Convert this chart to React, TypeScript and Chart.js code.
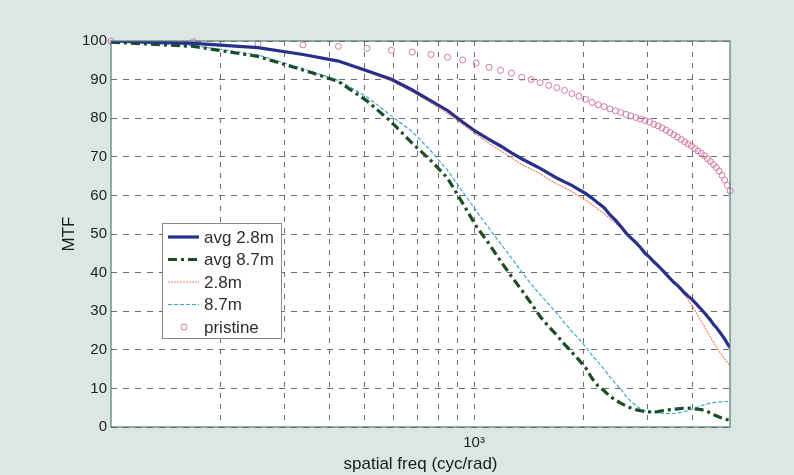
import React, { useEffect, useRef } from 'react';
import { Chart, registerables } from 'chart.js';
Chart.register(...registerables);

// spatial frequency samples (cyc/rad)
const FREQ = [100, 169, 254, 338, 423, 507, 592, 676, 761, 845, 930,
  1014, 1099, 1183, 1268, 1352, 1437, 1521, 1606, 1690, 1775,
  1859, 1944, 2028, 2113, 2197, 2282, 2366, 2451, 2535, 2620,
  2704, 2789, 2873, 2958, 3042, 3127, 3211, 3296, 3380, 3465,
  3549, 3634, 3718, 3803, 3887, 3972, 4056, 4141, 4225, 4310,
  4394, 4479, 4563, 4648, 4732, 4817, 4901, 4986, 5070];

const AVG_28 = [100, 99.4, 98.3, 96.5, 94.8, 92.3, 90.1, 87.3, 84.5, 82.0,
  79.0, 76.5, 74.5, 72.8, 71.0, 69.5, 68.2, 67.0, 65.7, 64.5,
  63.5, 62.6, 61.5, 60.5, 59.3, 58.0, 56.8, 55.0, 53.6, 52.0,
  50.3, 49.0, 47.8, 46.5, 45.0, 44.0, 42.8, 41.8, 40.7, 39.6,
  38.5, 37.5, 36.7, 35.7, 34.7, 33.9, 33.2, 32.3, 31.4, 30.5,
  29.6, 28.6, 27.7, 26.6, 25.8, 24.8, 23.8, 22.8, 21.6, 20.6];

const AVG_87 = [99.7, 98.6, 96.0, 92.5, 89.5, 84.5, 79.0, 73.5, 69.0, 64.5,
  58.0, 52.0, 47.5, 43.0, 39.0, 35.5, 32.0, 28.6, 26.0, 23.8,
  21.4, 19.4, 17.4, 15.4, 12.6, 10.6, 9.4, 8.0, 7.0, 6.2,
  5.5, 4.9, 4.5, 4.2, 4.0, 3.9, 3.9, 4.0, 4.2, 4.4,
  4.5, 4.6, 4.7, 4.8, 4.9, 4.9, 4.8, 4.7, 4.6, 4.5,
  4.3, 4.0, 3.6, 3.2, 2.9, 2.6, 2.3, 2.1, 1.9, 1.7];

const RAW_28 = [100, 99.4, 98.3, 96.5, 94.6, 92.0, 89.7, 86.8, 84.0, 81.3,
  78.4, 75.8, 73.5, 71.6, 69.8, 68.0, 66.8, 65.6, 64.2, 63.0,
  62.0, 61.0, 59.8, 58.8, 57.6, 56.4, 55.3, 54.0, 52.8, 51.6,
  50.3, 49.0, 47.9, 46.6, 45.4, 44.2, 43.0, 42.0, 40.8, 39.8,
  38.6, 37.6, 36.6, 35.4, 34.2, 33.0, 31.6, 30.2, 28.8, 27.4,
  26.0, 24.6, 23.3, 22.0, 20.8, 19.6, 18.6, 17.6, 16.8, 16.0];

const RAW_87 = [99.8, 98.8, 96.4, 92.8, 89.8, 85.5, 80.6, 76.5, 71.5, 66.5,
  61.0, 56.0, 51.5, 47.5, 43.8, 40.2, 37.0, 34.3, 31.8, 29.5,
  27.0, 24.8, 22.8, 20.8, 18.6, 16.8, 15.0, 13.0, 11.3, 9.8,
  8.0, 6.6, 5.6, 4.7, 4.2, 4.0, 3.8, 3.7, 3.6, 3.5,
  3.5, 3.5, 3.6, 3.8, 4.0, 4.3, 4.6, 4.9, 5.2, 5.5,
  5.8, 6.0, 6.2, 6.3, 6.4, 6.5, 6.5, 6.6, 6.6, 6.6];

const PRISTINE = [100, 99.8, 99.3, 99.0, 98.6, 98.1, 97.6, 97.1, 96.5, 95.8,
  95.1, 94.3, 93.2, 92.4, 91.7, 90.6, 90.0, 89.2, 88.5, 87.9,
  87.2, 86.4, 85.7, 84.9, 84.1, 83.5, 83.0, 82.4, 81.9, 81.5,
  81.0, 80.6, 80.2, 79.8, 79.4, 79.0, 78.4, 78.0, 77.5, 76.9,
  76.3, 75.7, 75.1, 74.5, 73.9, 73.3, 72.8, 72.1, 71.5, 70.9,
  70.3, 69.5, 68.8, 68.0, 67.2, 66.3, 65.2, 64.0, 62.6, 61.2];

const X_GRID = [200, 300, 400, 500, 600, 700, 800, 900, 1000, 2000, 3000, 4000];
const X_LABELS: Record<number, string> = { 1000: '10³' };
const Y_TICK_STEP = 10;

const LABELS = ['avg 2.8m', 'avg 8.7m', '2.8m', '8.7m', 'pristine'];
const X_TITLE = 'spatial freq (cyc/rad)';
const Y_TITLE = 'MTF';

const BG = '#dbe7e5';
const FONT = '"Liberation Sans", Arial, Helvetica, sans-serif';

const pts = (ys: number[]) => ys.map((y, i) => ({ x: FREQ[i], y }));

export default function App() {
  const ref = useRef<HTMLCanvasElement>(null);
  useEffect(() => {
    document.body.style.margin = '0';
    const decor = {
      id: 'decor',
      beforeDraw(chart: any) {
        const { ctx, chartArea: a } = chart;
        ctx.save();
        ctx.fillStyle = BG;
        ctx.fillRect(0, 0, chart.width, chart.height);
        ctx.fillStyle = '#ffffff';
        ctx.fillRect(a.left, a.top, a.right - a.left, a.bottom - a.top);
        ctx.restore();
      },
      afterDraw(chart: any) {
        const { ctx, chartArea: a } = chart;
        ctx.save();
        // frame
        ctx.strokeStyle = '#557a70';
        ctx.lineWidth = 1.2;
        ctx.setLineDash([]);
        ctx.strokeRect(a.left, a.top, a.right - a.left, a.bottom - a.top);
        // axis titles
        ctx.fillStyle = '#1a1a1a';
        ctx.font = `17px ${FONT}`;
        ctx.textAlign = 'center';
        ctx.textBaseline = 'middle';
        ctx.fillText(X_TITLE, (a.left + a.right) / 2, 464);
        ctx.save();
        ctx.translate(69, 234);
        ctx.rotate(-Math.PI / 2);
        ctx.fillText(Y_TITLE, 0, 0);
        ctx.restore();
        // legend
        const bx = 162.5, by = 223.5, bw = 119, bh = 115;
        ctx.fillStyle = '#ffffff';
        ctx.fillRect(bx, by, bw, bh);
        ctx.strokeStyle = '#8a8a8a';
        ctx.lineWidth = 1;
        ctx.strokeRect(bx, by, bw, bh);
        const rowH = 22.5;
        chart.data.datasets.forEach((ds: any, i: number) => {
          const y = 237 + i * rowH;
          if (ds.showLine === false) {
            ctx.beginPath();
            ctx.setLineDash([]);
            ctx.strokeStyle = ds.borderColor;
            ctx.lineWidth = 1;
            ctx.arc(184, y, 3, 0, Math.PI * 2);
            ctx.stroke();
          } else {
            ctx.beginPath();
            ctx.setLineDash(ds.borderDash || []);
            ctx.strokeStyle = ds.borderColor;
            ctx.lineWidth = ds.borderWidth;
            ctx.moveTo(168, y);
            ctx.lineTo(199, y);
            ctx.stroke();
          }
          ctx.setLineDash([]);
          ctx.fillStyle = '#2e2e2e';
          ctx.font = `17px ${FONT}`;
          ctx.textAlign = 'left';
          ctx.textBaseline = 'middle';
          ctx.fillText(ds.label, 204, y + 1);
        });
        ctx.restore();
      },
    };

    const chart = new Chart(ref.current!, {
      type: 'line',
      data: {
        datasets: [
          { label: LABELS[0], data: pts(AVG_28), borderColor: '#29308c', borderWidth: 3.2, pointRadius: 0, tension: 0 },
          { label: LABELS[1], data: pts(AVG_87), borderColor: '#1d4d24', borderWidth: 3.2, borderDash: [9, 4, 3, 4], pointRadius: 0, tension: 0 },
          { label: LABELS[2], data: pts(RAW_28), borderColor: '#f2825f', borderWidth: 1.2, borderDash: [2, 1], pointRadius: 0, tension: 0 },
          { label: LABELS[3], data: pts(RAW_87), borderColor: '#3ea6d0', borderWidth: 1.2, borderDash: [4, 2], pointRadius: 0, tension: 0 },
          { label: LABELS[4], data: pts(PRISTINE), showLine: false, borderColor: '#d27aa8', backgroundColor: 'rgba(0,0,0,0)', borderWidth: 1, pointRadius: 3, pointStyle: 'circle', clip: 4 } as any,
        ],
      },
      options: {
        responsive: false,
        animation: false,
        devicePixelRatio: 1,
        layout: { padding: { left: 0, top: 41, right: 64, bottom: 0 } },
        plugins: { legend: { display: false }, tooltip: { enabled: false } },
        scales: {
          x: {
            type: 'logarithmic',
            min: 100,
            max: 5070,
            afterBuildTicks: (s: any) => { s.ticks = X_GRID.map((v) => ({ value: v })); },
            afterFit: (s: any) => { s.height = 48; },
            ticks: {
              autoSkip: false,
              maxRotation: 0,
              padding: 7,
              color: '#222',
              font: { family: FONT, size: 15 },
              callback: (v: any) => X_LABELS[Number(v)] ?? '',
            },
            grid: { color: 'rgba(85,85,85,0.85)', lineWidth: 1, drawTicks: false },
            border: { display: false, dash: [5, 6] },
          },
          y: {
            min: 0,
            max: 100,
            afterFit: (s: any) => { s.width = 111; },
            ticks: { stepSize: Y_TICK_STEP, padding: 4, color: '#222', font: { family: FONT, size: 15 } },
            grid: { color: 'rgba(85,85,85,0.85)', lineWidth: 1, drawTicks: false },
            border: { display: false, dash: [6, 6] },
          },
        },
      },
      plugins: [decor],
    });
    return () => chart.destroy();
  }, []);
  return (
    <div style={{ position: 'fixed', left: 0, top: 0, width: 794, height: 475, background: BG }}>
      <canvas ref={ref} width={794} height={475} style={{ display: 'block', width: 794, height: 475 }} />
    </div>
  );
}
